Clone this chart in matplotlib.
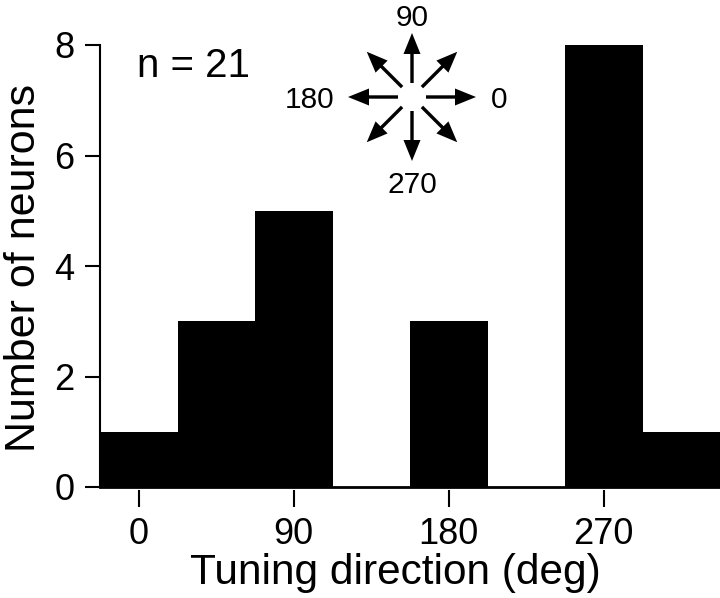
import numpy as np
import matplotlib
matplotlib.use('Agg')
import matplotlib.pyplot as plt

plt.rcParams['font.family'] = ['Liberation Sans', 'DejaVu Sans']

# histogram of preferred directions
bin_centers = [0, 45, 90, 135, 180, 225, 270, 315]
counts = [1, 3, 5, 0, 3, 0, 8, 1]
bin_width = 45
xticks = [0, 90, 180, 270]
yticks = [0, 2, 4, 6, 8]

# compass rose
compass_angles = [0, 45, 90, 135, 180, 225, 270, 315]
compass_labels = {0: '0', 90: '90', 180: '180', 270: '270'}

fig = plt.figure(figsize=(7.2, 5.98), dpi=100)
ax = fig.add_axes([100/720, 111/598, 620/720, 442/598])

ax.bar(bin_centers, counts, width=bin_width, color='black', linewidth=0)
ax.axhline(0, color='black', lw=2, clip_on=False)

ax.set_xlim(-22.5, 337.5)
ax.set_ylim(0, 8)
ax.set_xticks(xticks)
ax.set_yticks(yticks)

for s in ['top', 'right']:
    ax.spines[s].set_visible(False)
ax.spines['bottom'].set_position(('outward', 2.5))
ax.spines['bottom'].set_visible(False)
ax.spines['left'].set_linewidth(1.5)

ax.tick_params(axis='y', length=10.5, width=1.5, pad=8, labelsize=26)
ax.tick_params(axis='x', length=12, width=1.5, pad=7, labelsize=26)

ax.set_xlabel('Tuning direction (deg)', fontsize=30.5)
ax.xaxis.set_label_coords(0.476, (487-584)/442)
ax.xaxis.label.set_va('baseline')
ax.set_ylabel('Number of neurons', fontsize=31)
ax.yaxis.set_label_coords((35-100)/620, 0.495)
ax.yaxis.label.set_va('baseline')

ax.text((137-100)/620, (487-77)/442, 'n = 21', transform=ax.transAxes,
        fontsize=29, va='baseline', ha='left')

# inset for the direction key (1 unit = 100 px)
cx, cy = 412, 97
inset = fig.add_axes([(cx-100)/720, (598-cy-100)/598, 200/720, 200/598])
inset.set_xlim(-1, 1)
inset.set_ylim(-1, 1)
inset.axis('off')
r0, r1 = 0.14, 0.64
for a in compass_angles:
    t = np.deg2rad(a)
    inset.arrow(r0*np.cos(t), r0*np.sin(t),
                (r1-r0)*np.cos(t), (r1-r0)*np.sin(t),
                width=0.034, head_width=0.17, head_length=0.21,
                length_includes_head=True, color='black', lw=0, clip_on=False)
inset.text(0.79, -0.11, compass_labels[0], fontsize=21.5, ha='left', va='baseline')
inset.text(-0.78, -0.11, compass_labels[180], fontsize=21.5, ha='right', va='baseline')
inset.text(0, 0.71, compass_labels[90], fontsize=21.5, ha='center', va='baseline')
inset.text(0, -0.96, compass_labels[270], fontsize=21.5, ha='center', va='baseline')

fig.savefig('out.png', dpi=100)
